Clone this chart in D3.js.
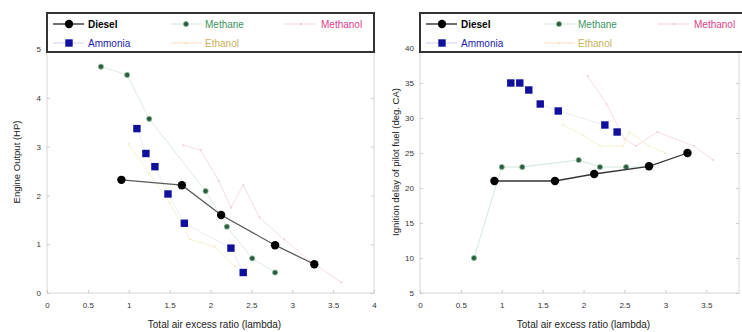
<!DOCTYPE html>
<html>
<head>
<meta charset="utf-8" />
<title>Engine output and ignition delay</title>
<style>
html, body {
    margin: 0px;
    padding: 0px;
    background: #fff;
}
svg {
    display: block;
    font-family: "Liberation Sans", Arial, sans-serif;
}
</style>
</head>
<body>
<svg id="chart" width="742" height="332"></svg>

<script src="https://d3js.org/d3.v7.min.js"></script>
<script>
// ---- data ----
// left panel: engine output (HP) vs total air excess ratio
var dieselLamL   = [0.91, 1.65, 2.13, 2.79, 3.27]
var dieselHP     = [2.32, 2.21, 1.60, 0.98, 0.59]
var methaneLamL  = [0.66, 0.98, 1.25, 1.94, 2.20, 2.51, 2.79]
var methaneHP    = [4.64, 4.47, 3.57, 2.09, 1.36, 0.71, 0.42]
var ammoniaLamL  = [1.10, 1.21, 1.32, 1.48, 1.68, 2.25, 2.40]
var ammoniaHP    = [3.37, 2.86, 2.59, 2.03, 1.43, 0.92, 0.42]
var methanolLamL = [1.67, 1.88, 2.10, 2.25, 2.40, 2.60, 2.90, 3.25, 3.60]
var methanolHP   = [3.03, 2.93, 2.30, 1.75, 2.21, 1.55, 1.10, 0.62, 0.22]
var ethanolLamL  = [1.00, 1.25, 1.50, 1.75, 2.05, 2.30]
var ethanolHP    = [3.05, 2.45, 1.85, 1.10, 0.95, 0.55]

// right panel: ignition delay of pilot fuel (deg. CA)
var dieselLamR   = [0.91, 1.65, 2.13, 2.80, 3.27]
var dieselDelay  = [21, 21, 22, 23.1, 25]
var methaneLamR  = [0.66, 1.00, 1.25, 1.94, 2.20, 2.52, 2.80]
var methaneDelay = [10, 23, 23, 24, 23, 23, 23]
var ammoniaLamR  = [1.11, 1.22, 1.33, 1.47, 1.69, 2.26, 2.41]
var ammoniaDelay = [35, 35, 34, 32, 31, 29, 28]
var methanolLamR = [2.05, 2.28, 2.50, 2.64, 2.90, 3.35, 3.58]
var methanolDelay= [36, 32, 27, 26, 28, 26, 24]
var ethanolLamR  = [1.75, 2.00, 2.20, 2.48, 2.56, 2.80, 3.00]
var ethanolDelay = [29, 27.5, 26, 26, 28, 26, 25]

var xTicks  = [0, 0.5, 1, 1.5, 2, 2.5, 3, 3.5, 4]
var yTicksL = [0, 1, 2, 3, 4, 5]
var yTicksR = [5, 10, 15, 20, 25, 30, 35, 40]

var svg = d3.select("#chart")

function zip(xs, ys){ return xs.map(function(x, i){ return [x, ys[i]] }) }

drawPanel({
    x0: 47, x1: 374, xMax: 4,
    yDomain: [0, 5.74],
    yTicks: yTicksL,
    yTitle: "Engine Output (HP)", yTitleX: 17,
    series: [
        {name: "Methanol", pts: zip(methanolLamL, methanolHP), line: "#f6dde5", mark: "tiny", col: "#efd2da"},
        {name: "Ethanol",  pts: zip(ethanolLamL, ethanolHP),   line: "#f8f3cf", mark: "tiny", col: "#f3ecc0"},
        {name: "Methane",  pts: zip(methaneLamL, methaneHP),   line: "#dcebe1", mark: "dot"},
        {name: "Ammonia",  pts: zip(ammoniaLamL, ammoniaHP),   line: "#ececf8", mark: "square"},
        {name: "Diesel",   pts: zip(dieselLamL, dieselHP),     line: "#5a5a5a", mark: "circle"}
    ]
})

drawPanel({
    x0: 420, x1: 739, xMax: 3.9,
    yDomain: [5, 45],
    yTicks: yTicksR,
    yTitle: "Ignition delay of pilot fuel (deg. CA)", yTitleX: 396,
    series: [
        {name: "Methanol", pts: zip(methanolLamR, methanolDelay), line: "#f6dde5", mark: "tiny", col: "#efd2da"},
        {name: "Ethanol",  pts: zip(ethanolLamR, ethanolDelay),   line: "#f8f3cf", mark: "tiny", col: "#f3ecc0"},
        {name: "Methane",  pts: zip(methaneLamR, methaneDelay),   line: "#d2e8d8", mark: "dot"},
        {name: "Ammonia",  pts: zip(ammoniaLamR, ammoniaDelay),   line: "#ececf8", mark: "square"},
        {name: "Diesel",   pts: zip(dieselLamR, dieselDelay),     line: "#333", mark: "circle"}
    ]
})

function drawMark(g, kind, cx, cy, col){
    if(kind == "circle"){
        g.append("circle").attr("cx", cx).attr("cy", cy).attr("r", 4.2).attr("fill", "#000")
    } else if(kind == "square"){
        g.append("rect").attr("x", cx-3.7).attr("y", cy-3.7).attr("width", 7.4).attr("height", 7.4).attr("fill", "#10109c")
    } else if(kind == "dot"){
        g.append("circle").attr("cx", cx).attr("cy", cy).attr("r", 2.6)
            .attr("fill", "#2c5b40").attr("stroke", "#8fbb9c").attr("stroke-width", 0.8)
    } else {
        g.append("circle").attr("cx", cx).attr("cy", cy).attr("r", 1.1).attr("fill", col)
    }
}

function drawPanel(cfg){
    var top = 13, bottom = 293
    var x = d3.scaleLinear().domain([0, cfg.xMax]).range([cfg.x0, cfg.x1])
    var y = d3.scaleLinear().domain(cfg.yDomain).range([bottom, top])
    var g = svg.append("g")

    // frame
    g.append("rect")
        .attr("x", cfg.x0).attr("y", top)
        .attr("width", cfg.x1 - cfg.x0).attr("height", bottom - top)
        .attr("fill", "none").attr("stroke", "#d8d8d8").attr("stroke-width", 1)

    var xTk = xTicks.filter(function(t){ return t <= cfg.xMax })

    // bottom axis, ticks pointing in
    var xAxis = g.append("g")
        .attr("transform", "translate(0," + bottom + ")")
        .call(d3.axisBottom(x).tickValues(xTk).tickSize(-3).tickPadding(9)
            .tickFormat(function(d){ return d }))
    xAxis.select(".domain").remove()
    xAxis.selectAll("line").attr("stroke", "#ccc")
    xAxis.selectAll("text").attr("font-size", 8).attr("fill", "#333")

    var yAxis = g.append("g")
        .attr("transform", "translate(" + cfg.x0 + ",0)")
        .call(d3.axisLeft(y).tickValues(cfg.yTicks).tickSize(-3).tickPadding(6)
            .tickFormat(function(d){ return d }))
    yAxis.select(".domain").remove()
    yAxis.selectAll("line").attr("stroke", "#ccc")
    yAxis.selectAll("text").attr("font-size", 8).attr("fill", "#333")

    var yAxisR = g.append("g")
        .attr("transform", "translate(" + cfg.x1 + ",0)")
        .call(d3.axisRight(y).tickValues(cfg.yTicks).tickSize(-3).tickFormat(""))
    yAxisR.select(".domain").remove()
    yAxisR.selectAll("line").attr("stroke", "#ccc")

    // titles
    g.append("text")
        .attr("x", (cfg.x0 + cfg.x1) / 2 + 4).attr("y", 328)
        .attr("text-anchor", "middle").attr("font-size", 10).attr("fill", "#222")
        .text("Total air excess ratio (lambda)")
    g.append("text")
        .attr("transform", "translate(" + cfg.yTitleX + "," + 162 + ") rotate(-90)")
        .attr("text-anchor", "middle").attr("dominant-baseline", "middle")
        .attr("font-size", 9.5).attr("fill", "#222")
        .text(cfg.yTitle)

    // series
    var line = d3.line().x(function(d){ return x(d[0]) }).y(function(d){ return y(d[1]) })
    cfg.series.forEach(function(s){
        g.append("path").datum(s.pts)
            .attr("d", line).attr("fill", "none")
            .attr("stroke", s.line).attr("stroke-width", s.name == "Diesel" ? 1.3 : 1)
        var mg = g.append("g")
        s.pts.forEach(function(p){ drawMark(mg, s.mark, x(p[0]), y(p[1]), s.col) })
    })

    // legend box
    var lg = g.append("g").attr("transform", "translate(" + cfg.x0 + "," + top + ")")
    lg.append("rect").attr("x", 0).attr("y", 0).attr("width", 327).attr("height", 39)
        .attr("fill", "#fff").attr("stroke", "#333").attr("stroke-width", 2)

    var items = [
        {name: "Diesel",   row: 0, lx: 6,   mx: 22,  tx: 41,  line: "#222",    mark: "circle", tc: "#000", bold: true},
        {name: "Ammonia",  row: 1, lx: 6,   mx: 22,  tx: 41,  line: "#d0d0f0", mark: "square", tc: "#1a1ab0"},
        {name: "Methane",  row: 0, lx: 124, mx: 139, tx: 158, line: "#cfe5d6", mark: "dot",    tc: "#3d9460"},
        {name: "Ethanol",  row: 1, lx: 124, mx: 139, tx: 158, line: "#f5dcc4", mark: "tiny",   tc: "#c9b15a", col: "#f0e0b0"},
        {name: "Methanol", row: 0, lx: 238, mx: 254, tx: 274, line: "#f3d2da", mark: "tiny",   tc: "#e23d8a", col: "#eec6d0"}
    ]
    items.forEach(function(it){
        var cy = it.row == 0 ? 11 : 30
        lg.append("line").attr("x1", it.lx).attr("x2", it.lx + 31)
            .attr("y1", cy).attr("y2", cy)
            .attr("stroke", it.line).attr("stroke-width", it.name == "Diesel" ? 1.3 : 1)
        drawMark(lg, it.mark, it.mx, cy, it.col)
        lg.append("text").attr("x", it.tx).attr("y", cy)
            .attr("dominant-baseline", "central")
            .attr("font-size", 10).attr("fill", it.tc)
            .attr("font-weight", it.bold ? "bold" : "normal")
            .text(it.name)
    })
}
</script>
</body>
</html>
